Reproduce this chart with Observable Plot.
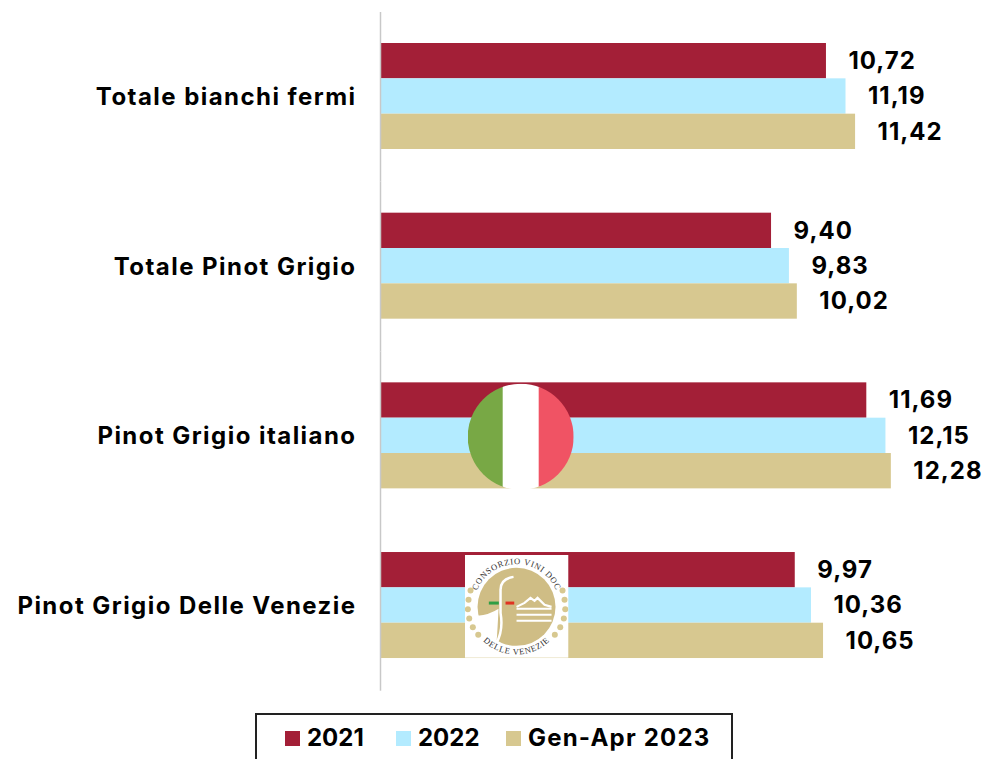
<!DOCTYPE html>
<html>
<head>
<meta charset="utf-8">
<script src="https://cdn.jsdelivr.net/npm/d3@7"></script>
<script src="https://cdn.jsdelivr.net/npm/@observablehq/plot@0.6"></script>
<style>
html,body{margin:0;padding:0;background:#fff;overflow:hidden;height:759px}
#chart svg{display:block}
#chart svg text{letter-spacing:1.45px}
#chart svg .vals text{letter-spacing:1px}
#legend{position:absolute;left:255px;top:713px;width:474px;height:60px;border:2px solid #222;box-sizing:content-box;font:700 24px Inter,sans-serif;color:#000}
#legend span{position:absolute;top:7px;white-space:nowrap;line-height:32px}
#legend span.wide{letter-spacing:1.2px}
#legend i{position:absolute;top:16px;width:15px;height:15px}
</style>
</head>
<body>
<div id="chart"></div>
<div id="legend"></div>
<script>
const categories = ["Totale bianchi fermi", "Totale Pinot Grigio", "Pinot Grigio italiano", "Pinot Grigio Delle Venezie"];
const seriesNames = ["2021", "2022", "Gen-Apr 2023"];
const values2021 = [10.72, 9.40, 11.69, 9.97];
const values2022 = [11.19, 9.83, 12.15, 10.36];
const values2023 = [11.42, 10.02, 12.28, 10.65];
const colors = ["#a31f37", "#b3ebff", "#d7c890"];

const rows = categories.flatMap((c, i) => [values2021, values2022, values2023].map((v, s) => ({
  category: c, series: seriesNames[s], value: v[i]
})));
const fmt = v => v.toFixed(2).replace(".", ",");
const uri = s => "data:image/svg+xml;charset=utf-8," + encodeURIComponent(s);

const flagSvg = `<svg xmlns="http://www.w3.org/2000/svg" width="106" height="106" viewBox="0 0 106 106">
<defs><clipPath id="c"><circle cx="53" cy="53" r="53"/></clipPath></defs>
<g clip-path="url(#c)"><rect width="36" height="106" fill="#78a845"/><rect x="35" width="37" height="106" fill="#fff"/><rect x="71" width="35" height="106" fill="#f05364"/></g></svg>`;

const dots = [[6,35.7],[4,45],[3.3,54.3],[4.7,63.7],[8.3,72.3],[13.7,80],[98,35.7],[100,45],[100.7,54.3],[99.3,63.7],[95.7,72.3],[90.3,80]]
  .map(([x, y]) => `<circle cx="${x}" cy="${y}" r="3" fill="#d7c890"/>`).join("");
const logoSvg = `<svg xmlns="http://www.w3.org/2000/svg" width="104" height="103" viewBox="0 0 104 103">
<rect width="104" height="103" fill="#fff"/>
<circle cx="52" cy="52" r="39" fill="#cfbd85"/>
<path d="M13,61 Q25,60 34,54 Q33,75 32,88 Q16,80 13,61Z" fill="#fff"/>
<path d="M49,22 Q36,24 36,35 L36,58 Q39,75 32,88" fill="none" stroke="#fff" stroke-width="2.5"/>
<path d="M52,54 H87 M52,60 H87 M52,66 H87" stroke="#fff" stroke-width="2" fill="none"/>
<path d="M52,52 L60,48 L66,43 L70,46 L73,43 L80,50 L87,52" stroke="#fff" stroke-width="2.2" fill="none"/>
<rect x="24.3" y="46.7" width="10" height="3" fill="#2f9e44"/>
<rect x="41" y="46.7" width="8.7" height="3" fill="#e03322"/>
${dots}
<path id="t" d="M9.7,44.5 A43,43 0 0 1 94.3,44.5" fill="none"/>
<path id="b" d="M7,68.4 A48,48 0 0 0 97,68.4" fill="none"/>
<text font-family="Liberation Serif,serif" font-size="8.5" fill="#333" letter-spacing=".7"><textPath href="#t" startOffset="50%" text-anchor="middle">CONSORZIO VINI DOC</textPath></text>
<text font-family="Liberation Serif,serif" font-size="8.5" fill="#333" letter-spacing=".7"><textPath href="#b" startOffset="50%" text-anchor="middle">DELLE VENEZIE</textPath></text>
</svg>`;

const flagBadge = [{category: categories[2], at: 3.37, src: uri(flagSvg)}];
const logoBadge = [{category: categories[3], at: 3.27, src: uri(logoSvg)}];

const plot = Plot.plot({
  width: 982,
  height: 701,
  marginTop: 12,
  marginBottom: 10.3,
  marginLeft: 380,
  marginRight: 0,
  x: {domain: [0, 602 / 41.6], axis: null},
  y: {domain: seriesNames, padding: 0, round: false, insetTop: 31, insetBottom: 32.67, axis: null},
  fy: {domain: categories, padding: 0, round: false, axis: null},
  color: {domain: seriesNames, range: colors},
  marks: [
    Plot.barX(rows, {x: "value", y: "series", fy: "category", fill: "series"}),
    Plot.ruleX([0], {stroke: "#c8c8c8", strokeWidth: 1.5}),
    Plot.text(rows, {x: "value", y: "series", fy: "category", text: d => fmt(d.value), className: "vals",
      textAnchor: "start", dx: 22, fontSize: 24, fontWeight: 700, fontFamily: "Inter, sans-serif", fill: "#000"}),
    Plot.axisFy({anchor: "left", label: null, tickSize: 0, tickPadding: 24, fontSize: 24, fontWeight: 700,
      fontFamily: "Inter, sans-serif", fill: "#000", lineWidth: 100}),
    Plot.image(flagBadge, {x: "at", fy: "category", src: "src", width: 106, height: 106}),
    Plot.image(logoBadge, {x: "at", fy: "category", src: "src", width: 104, height: 103})
  ]
});
document.getElementById("chart").append(plot);

const legend = document.getElementById("legend");
const swatchX = [28, 139, 249];
seriesNames.forEach((name, i) => {
  const sw = document.createElement("i");
  sw.style.left = swatchX[i] + "px";
  sw.style.background = colors[i];
  const t = document.createElement("span");
  t.style.left = (swatchX[i] + 22) + "px";
  t.textContent = name;
  if (i === 2) t.className = "wide";
  legend.append(sw, t);
});
</script>
</body>
</html>
